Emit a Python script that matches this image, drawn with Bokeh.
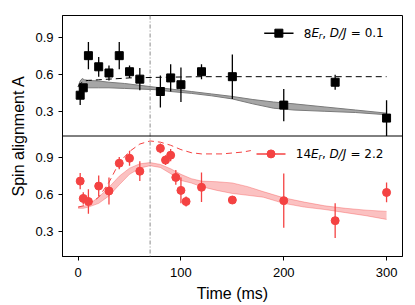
from bokeh.plotting import figure
from bokeh.models import Range1d, FixedTicker, Span, ColumnDataSource, Label
from bokeh.embed import file_html
from bokeh.resources import INLINE

# ---------------- data ----------------
# upper panel: 8 E_r, D/J = 0.1
t_up = [2, 5, 10, 20, 30, 40, 50, 60, 80, 90, 100, 120, 150, 200, 250, 300]
a_up = [0.43, 0.49, 0.75, 0.66, 0.61, 0.75, 0.62, 0.56, 0.46, 0.57, 0.515, 0.62, 0.58, 0.35, 0.535, 0.245]
e_up = [0.08, 0.03, 0.11, 0.08, 0.06, 0.11, 0.05, 0.09, 0.13, 0.11, 0.14, 0.06, 0.18, 0.13, 0.06, 0.145]

t_dash_up = [0, 3, 6, 10, 20, 30, 50, 80, 120, 200, 300]
a_dash_up = [0.50, 0.53, 0.545, 0.55, 0.555, 0.56, 0.57, 0.575, 0.58, 0.58, 0.58]

t_band_up = [0, 2, 4, 6, 10, 20, 30, 45, 60, 75, 90, 110, 130, 150, 170, 190, 210, 240, 270, 300]
hi_band_up = [0.50, 0.545, 0.565, 0.555, 0.55, 0.545, 0.535, 0.525, 0.51, 0.495, 0.48, 0.46, 0.44, 0.42, 0.395, 0.375, 0.36, 0.335, 0.31, 0.285]
lo_band_up = [0.50, 0.495, 0.49, 0.49, 0.49, 0.49, 0.49, 0.485, 0.48, 0.475, 0.46, 0.445, 0.425, 0.40, 0.36, 0.325, 0.31, 0.30, 0.29, 0.272]

# lower panel: 14 E_r, D/J = 2.2
t_lo = [2, 5, 10, 20, 30, 40, 50, 60, 80, 85, 90, 95, 100, 105, 120, 150, 200, 250, 300]
a_lo = [0.71, 0.57, 0.545, 0.67, 0.63, 0.855, 0.895, 0.79, 0.975, 0.88, 0.92, 0.74, 0.635, 0.545, 0.66, 0.557, 0.552, 0.39, 0.618]
e_lo = [0.065, 0.05, 0.10, 0.085, 0.11, 0.05, 0.06, 0.08, 0.04, 0.04, 0.05, 0.06, 0.105, 0.04, 0.12, 0.03, 0.22, 0.14, 0.08]

t_dash_lo = [0, 10, 20, 30, 40, 50, 60, 70, 80, 90, 100, 110, 120, 140, 160, 180, 200, 250, 300]
a_dash_lo = [0.50, 0.52, 0.58, 0.70, 0.86, 0.95, 1.01, 1.035, 1.025, 1.0, 0.965, 0.94, 0.93, 0.93, 0.945, 0.975, 0.99, 1.0, 1.0]

t_band_lo = [0, 5, 10, 20, 30, 40, 50, 60, 70, 80, 90, 100, 110, 120, 135, 150, 165, 180, 200, 220, 240, 260, 280, 300]
hi_band_lo = [0.50, 0.505, 0.52, 0.58, 0.66, 0.75, 0.815, 0.85, 0.86, 0.845, 0.81, 0.765, 0.73, 0.71, 0.705, 0.695, 0.665, 0.625, 0.575, 0.54, 0.51, 0.49, 0.475, 0.465]
lo_band_lo = [0.49, 0.49, 0.50, 0.53, 0.59, 0.68, 0.765, 0.815, 0.835, 0.82, 0.77, 0.715, 0.695, 0.665, 0.635, 0.61, 0.595, 0.58, 0.53, 0.50, 0.48, 0.455, 0.43, 0.40]

x_ticks = [0, 100, 200, 300]
t_quench = 70

# ---------------- styles ----------------
RED = "#f44242"
FONT = "Liberation Sans"
Y_LO = (0.1, 1.075)
PANEL = Y_LO[1] - Y_LO[0]

p = figure(width=406, height=304,
           x_range=Range1d(-15.2, 315.5),
           y_range=Range1d(Y_LO[0], Y_LO[1] + PANEL),
           output_backend="svg", toolbar_location=None,
           min_border_left=62, min_border_right=4, min_border_top=15, min_border_bottom=45)
p.extra_y_ranges = {"up": Range1d(Y_LO[0] - PANEL, Y_LO[1])}
p.background_fill_color = "white"
p.border_fill_color = "white"
p.outline_line_color = "black"
p.outline_line_width = 1
p.outline_line_alpha = 1
p.grid.visible = False

# ---- upper panel ----
p.varea(x=t_band_up, y1=lo_band_up, y2=hi_band_up, fill_color="#a6a6a6", fill_alpha=1, y_range_name="up")
p.line(t_band_up, hi_band_up, line_color="#7a7a7a", line_width=1, y_range_name="up")
p.line(t_band_up, lo_band_up, line_color="#7a7a7a", line_width=1, y_range_name="up")
p.line(t_dash_up, a_dash_up, line_color="black", line_dash="6 4", line_width=1, y_range_name="up")
src_up = ColumnDataSource(dict(t=t_up, a=a_up,
                               lo=[a - e for a, e in zip(a_up, e_up)],
                               hi=[a + e for a, e in zip(a_up, e_up)]))
p.segment(x0="t", y0="lo", x1="t", y1="hi", source=src_up, line_color="black", line_width=1.3, y_range_name="up")
p.scatter(x="t", y="a", source=src_up, marker="square", size=8, fill_color="black", line_color="black", y_range_name="up")

# ---- lower panel ----
p.varea(x=t_band_lo, y1=lo_band_lo, y2=hi_band_lo, fill_color=RED, fill_alpha=0.33)
p.line(t_band_lo, hi_band_lo, line_color=RED, line_alpha=0.35, line_width=1)
p.line(t_band_lo, lo_band_lo, line_color=RED, line_alpha=0.35, line_width=1)
p.line(t_dash_lo, a_dash_lo, line_color=RED, line_dash="6 4", line_width=1)
src_lo = ColumnDataSource(dict(t=t_lo, a=a_lo,
                               lo=[a - e for a, e in zip(a_lo, e_lo)],
                               hi=[a + e for a, e in zip(a_lo, e_lo)]))
p.segment(x0="t", y0="lo", x1="t", y1="hi", source=src_lo, line_color=RED, line_width=1.3)
p.scatter(x="t", y="a", source=src_lo, marker="circle", size=8, fill_color=RED, line_color=RED)

# separators
p.add_layout(Span(location=t_quench, dimension="height", line_color="#8a8a8a", line_dash="4 2 1 2", line_width=1))
p.add_layout(Span(location=Y_LO[1], dimension="width", line_color="black", line_width=1))

# ---- legends (manual) ----
def legend(x_line0, x_line1, y, marker, color, pieces, range_name, box):
    p.quad(left=[box[0]], right=[box[1]], bottom=[box[2]], top=[box[3]],
           fill_color="white", fill_alpha=1, line_alpha=0, y_range_name=range_name)
    p.line([x_line0, x_line1], [y, y], line_color=color, line_width=1.5, y_range_name=range_name)
    p.scatter([(x_line0 + x_line1) / 2], [y], marker=marker, size=8, fill_color=color, line_color=color,
              y_range_name=range_name)
    xt = x_line1 + 10
    for txt, dx, dy, size, style in pieces:
        p.add_layout(Label(x=xt, y=y, x_offset=dx, y_offset=dy, text=txt, text_font="DejaVu Sans",
                           text_font_size=size, text_font_style=style, text_baseline="middle",
                           text_color="black", y_range_name=range_name))

legend(181, 209.5, 0.932, "square", "black",
       [("8", 0, 0, "12px", "normal"), ("E", 7.6, 0, "12px", "italic"), ("r", 15.0, -3, "8.5px", "italic"),
        (",", 18.5, 0, "12px", "normal"), ("D/J", 26, 0, "12px", "italic"), ("= 0.1", 47, 0, "12px", "normal")],
       "up", (172, 312, 0.86, 1.0))
legend(173.5, 201.7, 0.93, "circle", RED,
       [("14", 0, 0, "12px", "normal"), ("E", 15.2, 0, "12px", "italic"), ("r", 22.6, -3, "8.5px", "italic"),
        (",", 26.1, 0, "12px", "normal"), ("D/J", 33.6, 0, "12px", "italic"), ("= 2.2", 54.6, 0, "12px", "normal")],
       "default", (168, 312, 0.85, 1.02))

# ---- axes ----
p.xaxis.ticker = FixedTicker(ticks=x_ticks)
p.xaxis.axis_label = "Time (ms)"
y_ticks = [0.3, 0.6, 0.9, 1.275, 1.575, 1.875]
p.yaxis.ticker = FixedTicker(ticks=y_ticks)
p.yaxis.major_label_overrides = {0.3: "0.3", 0.6: "0.6", 0.9: "0.9", 1.275: "0.3", 1.575: "0.6", 1.875: "0.9"}
p.yaxis.axis_label = "Spin alignment A"
for ax in (p.xaxis, p.yaxis):
    ax.axis_line_color = "black"
    ax.major_tick_line_color = "black"
    ax.major_tick_in = 0
    ax.major_tick_out = 4
    ax.minor_tick_line_color = None
    ax.major_label_text_font = FONT
    ax.major_label_text_font_size = "13px"
    ax.major_label_text_color = "black"
    ax.axis_label_text_font = FONT
    ax.axis_label_text_font_size = "16px"
    ax.axis_label_text_font_style = "normal"
    ax.axis_label_text_color = "black"
p.xaxis.major_label_standoff = 7
p.xaxis.axis_label_standoff = 5
p.yaxis.major_label_standoff = 5
p.yaxis.axis_label_standoff = 5

open("out.html", "w").write(file_html(p, INLINE))
